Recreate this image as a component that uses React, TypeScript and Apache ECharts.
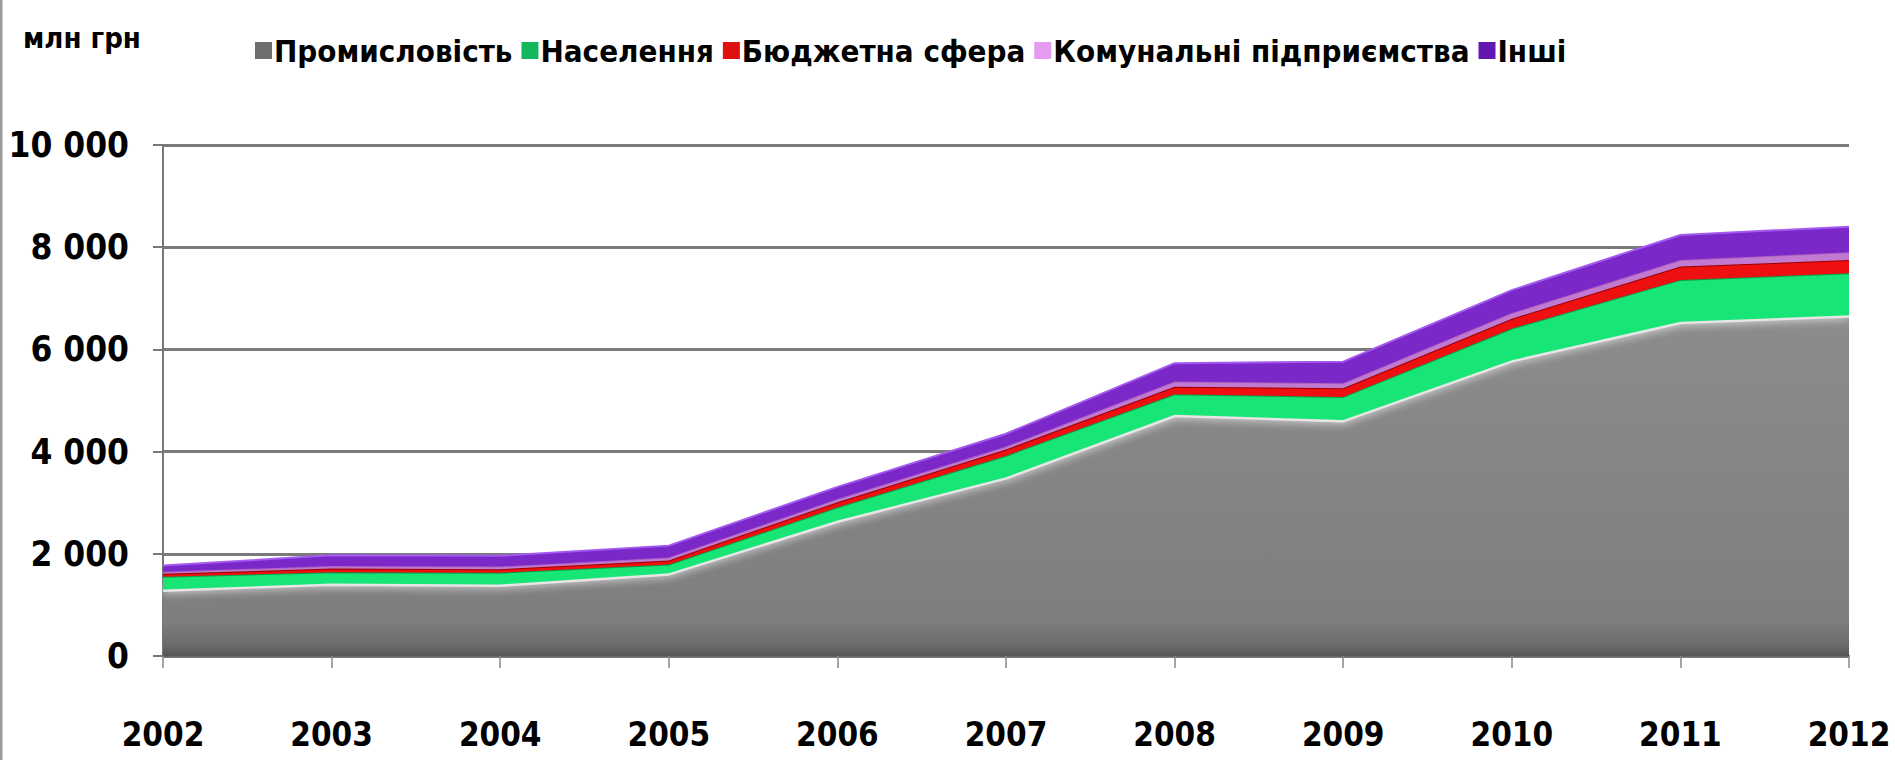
import React, { useEffect, useRef } from "react";
import * as echarts from "echarts";

const years = ["2002", "2003", "2004", "2005", "2006", "2007", "2008", "2009", "2010", "2011", "2012"];
const industry = [1300, 1420, 1400, 1620, 2650, 3500, 4720, 4620, 5790, 6540, 6670];
const population = [250, 220, 230, 170, 260, 420, 400, 450, 620, 820, 820];
const budget = [60, 70, 70, 80, 100, 120, 150, 170, 190, 260, 260];
const communal = [40, 50, 50, 60, 60, 60, 100, 100, 110, 130, 150];
const other = [120, 210, 210, 230, 240, 250, 360, 420, 450, 490, 500];

const seriesNames = ["Промисловість", "Населення", "Бюджетна сфера", "Комунальні підприємства", "Інші"];
const unitLabel = "млн грн";

const FONT = "'Liberation Sans Narrow', 'DejaVu Sans Condensed', 'Liberation Sans', Arial, sans-serif";

function fmt(v: number): string {
  if (v >= 1000) {
    return Math.floor(v / 1000) + " " + String(v % 1000).padStart(3, "0");
  }
  return String(v);
}

export default function App() {
  const ref = useRef<HTMLDivElement>(null);
  useEffect(() => {
    if (!ref.current) return;
    const chart = echarts.init(ref.current, undefined, { renderer: "svg" });
    const lin = (stops: [number, string][]) =>
      new echarts.graphic.LinearGradient(0, 0, 0, 1, stops.map(([o, c]) => ({ offset: o, color: c })));
    const datasets = [industry, population, budget, communal, other];
    const areaColors: any[] = [
      lin([[0, "#8c8c8c"], [0.9, "#7e7e7e"], [0.97, "#6a6a6a"], [1, "#555555"]]),
      "#17e575",
      "#ee1010",
      "#c27ad0",
      "#7a28c8",
    ];
    const lineColors = ["#e6e6e6", "#0a9c4a", "#9a0000", "#b060c0", "#a45af0"];
    const legendColors = ["#6e6e6e", "#12b85c", "#e01010", "#e59cf0", "#6218b0"];
    const series = seriesNames.map((name, i) => ({
      name,
      type: "line",
      stack: "total",
      data: datasets[i],
      symbol: "none",
      color: legendColors[i],
      lineStyle: {
        color: lineColors[i],
        width: i === 0 ? 5 : 2,
        shadowBlur: i === 0 ? 10 : 0,
        shadowColor: i === 0 ? "rgba(255,255,255,1)" : "transparent",
      },
      areaStyle: { color: areaColors[i], opacity: 1 },
      z: 2 + i,
    }));
    chart.setOption({
      animation: false,
      backgroundColor: "#ffffff",
      textStyle: { fontFamily: FONT },
      title: {
        text: unitLabel,
        left: 18,
        top: 18,
        textStyle: { fontFamily: FONT, fontSize: 29, fontWeight: "bold", color: "#000" },
      },
      legend: {
        left: 250,
        top: 30,
        itemWidth: 17,
        itemHeight: 17,
        itemGap: 9,
        icon: "rect",
        textStyle: { fontFamily: FONT, fontSize: 31, fontWeight: "bold", color: "#000", padding: [0, 0, 0, -3] },
        data: seriesNames.map((n) => ({ name: n })),
      },
      grid: { left: 163, right: 46, top: 145, bottom: 104, containLabel: false },
      xAxis: {
        type: "category",
        data: years,
        boundaryGap: false,
        axisLine: { show: true, lineStyle: { color: "#666", width: 2 } },
        axisTick: { show: true, length: 12, lineStyle: { color: "#888", width: 1.5 } },
        axisLabel: { fontFamily: FONT, fontSize: 33, fontWeight: "bold", color: "#000", margin: 62 },
        splitLine: { show: false },
      },
      yAxis: {
        type: "value",
        min: 0,
        max: 10000,
        interval: 2000,
        axisLine: { show: true, lineStyle: { color: "#777", width: 2 } },
        axisTick: { show: true, length: 10, lineStyle: { color: "#777", width: 2 } },
        axisLabel: { fontFamily: FONT, fontSize: 35, fontWeight: "bold", color: "#000", margin: 34, formatter: fmt },
        splitLine: { show: true, lineStyle: { color: "#7a7a7a", width: 3 } },
      },
      graphic: [
        { type: "line", shape: { x1: 1, y1: 0, x2: 1, y2: 760 }, style: { stroke: "#9a9a9a", lineWidth: 3 } },
      ],
      series,
    });
    return () => chart.dispose();
  }, []);
  return (
    <div style={{ position: "fixed", left: 0, top: 0, width: 1895, height: 760, background: "#fff" }}>
      <div ref={ref} style={{ width: 1895, height: 760 }} />
    </div>
  );
}
